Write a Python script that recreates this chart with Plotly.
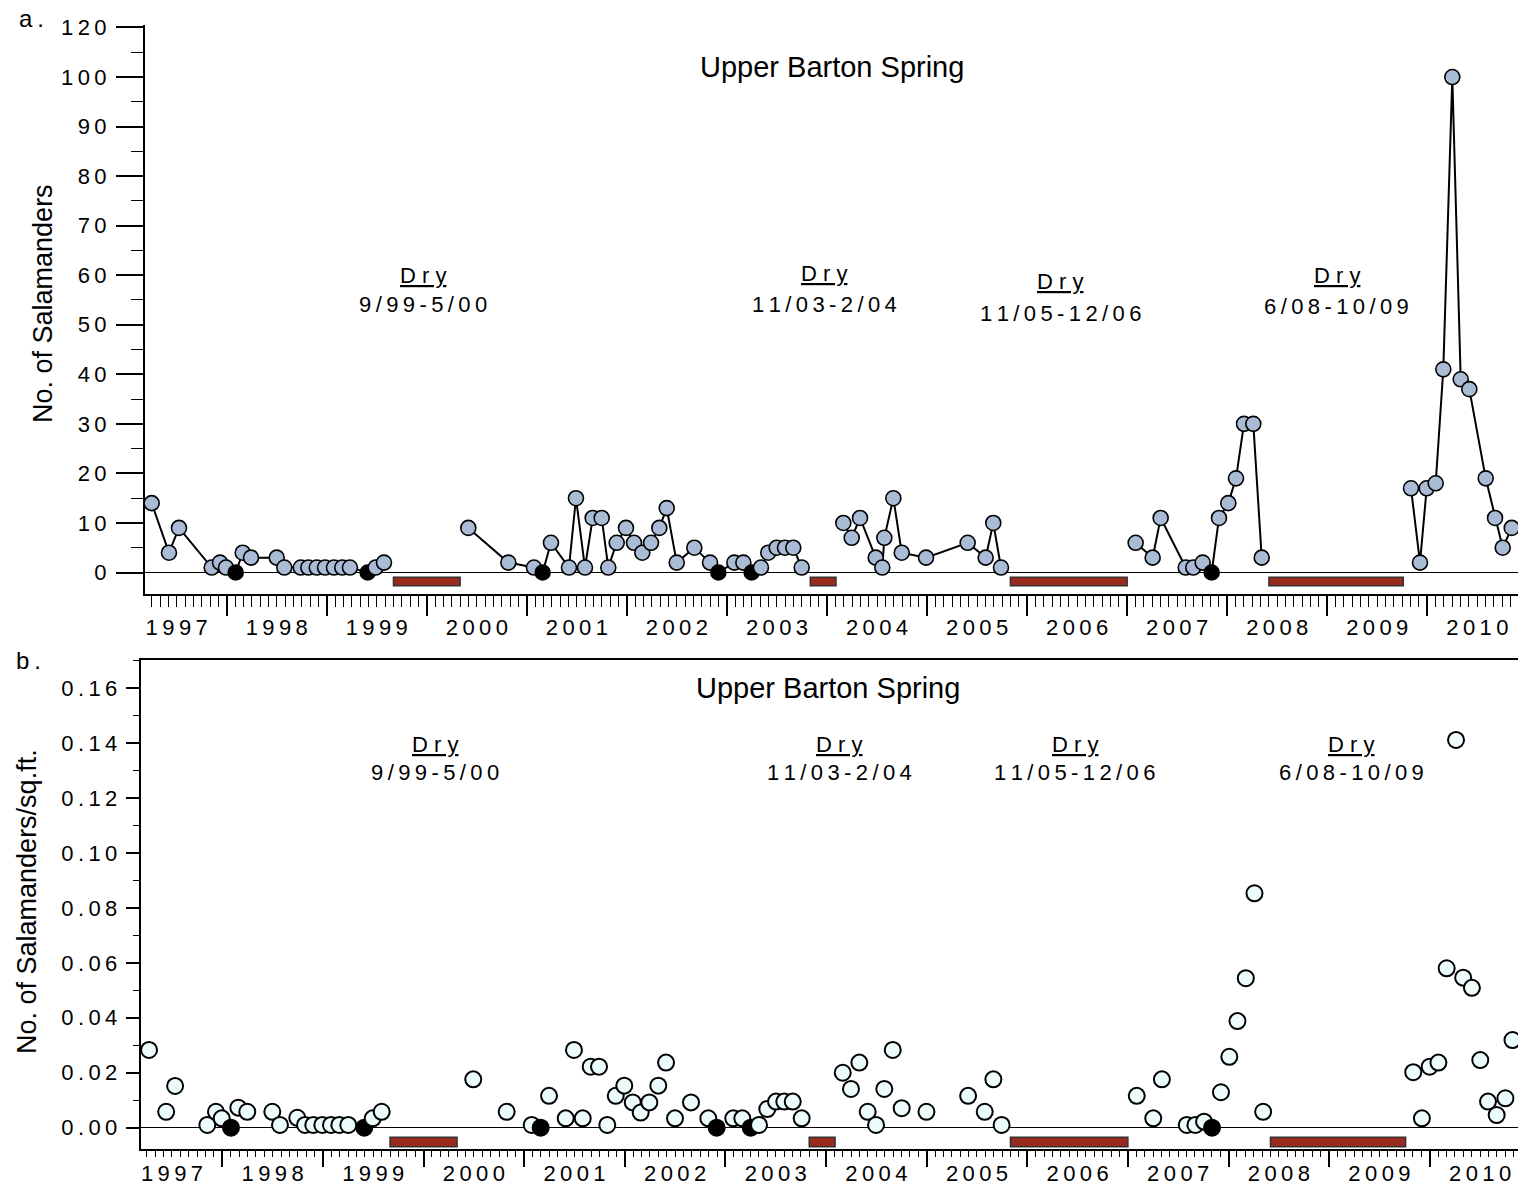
import plotly.graph_objects as go

W, H = 1518, 1187
FONT = "Liberation Sans, Arial, Helvetica, sans-serif"
THIN = "\u2009"

# ---- Panel a: salamander counts (sample time in decimal years) ----
count_time = [
    1997.250, 1997.423, 1997.523, 1997.850, 1997.933, 1997.993, 1998.090, 1998.160,
    1998.243, 1998.500, 1998.576, 1998.740, 1998.816, 1998.900, 1998.983, 1999.072,
    1999.155, 1999.232, 1999.409, 1999.489, 1999.572,
    2000.415, 2000.815, 2001.071, 2001.158, 2001.241, 2001.421, 2001.491, 2001.581,
    2001.658, 2001.748, 2001.814, 2001.898, 2001.991, 2002.071, 2002.154, 2002.241,
    2002.324, 2002.398, 2002.498, 2002.674, 2002.831, 2002.914, 2003.074, 2003.164,
    2003.247, 2003.340, 2003.413, 2003.497, 2003.580, 2003.663, 2003.747,
    2004.163, 2004.247, 2004.330, 2004.487, 2004.553, 2004.573, 2004.663, 2004.747,
    2004.990, 2005.406, 2005.586, 2005.662, 2005.739,
    2007.085, 2007.255, 2007.335, 2007.585, 2007.661, 2007.755, 2007.845, 2007.918,
    2008.011, 2008.088, 2008.168, 2008.261, 2008.345,
    2009.837, 2009.927, 2009.994, 2010.084, 2010.160, 2010.250, 2010.334, 2010.420,
    2010.584, 2010.677, 2010.754, 2010.844,
]
count = [
    14, 4, 9, 1, 2, 1, 0, 4, 3, 3, 1, 1, 1, 1, 1, 1, 1, 1, 0, 1, 2,
    9, 2, 1, 0, 6, 1, 15, 1, 11, 11, 1, 6, 9, 6, 4, 6, 9, 13, 2, 5, 2, 0, 2, 2,
    0, 1, 4, 5, 5, 5, 1,
    10, 7, 11, 3, 1, 7, 15, 4, 3, 6, 3, 10, 1,
    6, 3, 11, 1, 1, 2, 0, 11, 14, 19, 30, 30, 3,
    17, 2, 17, 18, 41, 100, 39, 37, 19, 11, 5, 9,
]

# ---- Panel b: salamanders per square foot ----
density_time = [
    1997.272, 1997.442, 1997.531, 1997.851, 1997.937, 1997.994, 1998.086, 1998.159,
    1998.248, 1998.497, 1998.573, 1998.745, 1998.822, 1998.904, 1998.994, 1999.080,
    1999.163, 1999.252, 1999.411, 1999.495, 1999.584,
    2000.494, 2000.826, 2001.075, 2001.164, 2001.247, 2001.413, 2001.495, 2001.582,
    2001.661, 2001.744, 2001.826, 2001.910, 2001.995, 2002.079, 2002.158, 2002.244,
    2002.333, 2002.410, 2002.499, 2002.658, 2002.830, 2002.913, 2003.078, 2003.168,
    2003.251, 2003.334, 2003.416, 2003.503, 2003.585, 2003.669, 2003.758,
    2004.166, 2004.248, 2004.331, 2004.414, 2004.497, 2004.579, 2004.663, 2004.752,
    2004.998, 2005.412, 2005.577, 2005.663, 2005.745,
    2007.088, 2007.252, 2007.338, 2007.585, 2007.671, 2007.757, 2007.836, 2007.925,
    2008.008, 2008.089, 2008.172, 2008.258, 2008.344,
    2009.836, 2009.922, 2009.999, 2010.086, 2010.168, 2010.261, 2010.332, 2010.419,
    2010.502, 2010.579, 2010.665, 2010.752, 2010.822,
]
density = [
    0.0283, 0.0058, 0.0152, 0.0010, 0.0058, 0.0034, 0.0, 0.0073, 0.0058, 0.0058,
    0.0010, 0.0036, 0.0010, 0.0010, 0.0010, 0.0010, 0.0010, 0.0010, 0.0, 0.0034, 0.0058,
    0.0176, 0.0058, 0.0010, 0.0, 0.0116, 0.0034, 0.0283, 0.0034, 0.0222, 0.0222,
    0.0010, 0.0116, 0.0153, 0.0092, 0.0055, 0.0092, 0.0153, 0.0237, 0.0034, 0.0092,
    0.0034, 0.0, 0.0034, 0.0034, 0.0, 0.0010, 0.0068, 0.0095, 0.0095, 0.0095, 0.0034,
    0.0200, 0.0141, 0.0237, 0.0058, 0.0010, 0.0141, 0.0283, 0.0071, 0.0058, 0.0116,
    0.0058, 0.0176, 0.0010,
    0.0116, 0.0034, 0.0176, 0.0010, 0.0010, 0.0022, 0.0, 0.0129, 0.0258, 0.0388,
    0.0544, 0.0853, 0.0058,
    0.0202, 0.0034, 0.0222, 0.0237, 0.0580, 0.1411, 0.0546, 0.0509, 0.0246, 0.0095,
    0.0046, 0.0107, 0.0319,
]

# ---- Dry periods ----
dry_start = [1999.667, 2003.833, 2005.833, 2008.417]
dry_end = [2000.333, 2004.090, 2007.000, 2009.760]
dry_text = ["9/99-5/00", "11/03-2/04", "11/05-12/06", "6/08-10/09"]

years = list(range(1997, 2011))
count_ticks = [0, 10, 20, 30, 40, 50, 60, 70, 80, 90, 100, 110]
count_tick_text = ["0", "10", "20", "30", "40", "50", "60", "70", "80", "90", "100", "120"]
density_ticks = [0.0, 0.02, 0.04, 0.06, 0.08, 0.10, 0.12, 0.14, 0.16]
density_tick_text = ["0.00", "0.02", "0.04", "0.06", "0.08", "0.10", "0.12", "0.14", "0.16"]

title_text = "Upper Barton Spring"


def spaced(s, sep=THIN):
    return sep.join(s)


def px_x(p):
    return p / W


def px_y(p):
    return 1 - p / H


def with_gaps(t, v):
    """Break the line wherever a dry period falls between two samples."""
    xs, ys = [], []
    for i in range(len(t)):
        if i > 0 and any(t[i - 1] < s < t[i] for s in dry_start):
            xs.append(None)
            ys.append(None)
        xs.append(t[i])
        ys.append(v[i])
    return xs, ys


COUNT_FILL = "#a9bbd5"
DENSITY_FILL = "#ecfcfc"
BAR_FILL = "#982a1e"

fig = go.Figure()

lx, ly = with_gaps(count_time, count)
fig.add_trace(go.Scatter(x=lx, y=ly, mode="lines", line=dict(color="black", width=2),
                         xaxis="x", yaxis="y", showlegend=False, hoverinfo="skip"))
fig.add_trace(go.Scatter(
    x=count_time, y=count, mode="markers", xaxis="x", yaxis="y", showlegend=False,
    marker=dict(size=15, color=["black" if v == 0 else COUNT_FILL for v in count],
                line=dict(color="black", width=1.6)),
))
fig.add_trace(go.Scatter(
    x=density_time, y=density, mode="markers", xaxis="x2", yaxis="y2", showlegend=False,
    marker=dict(size=16, color=["black" if v == 0 else DENSITY_FILL for v in density],
                line=dict(color="black", width=2)),
))
# carriers for the year-label axes
fig.add_trace(go.Scatter(x=[None], y=[None], xaxis="x3", yaxis="y", showlegend=False, hoverinfo="skip"))
fig.add_trace(go.Scatter(x=[None], y=[None], xaxis="x4", yaxis="y2", showlegend=False, hoverinfo="skip"))

tick_font = dict(family=FONT, size=22, color="black")

xa_range = [1997.1834, 2010.9066]
xb_range = [1997.189, 2010.877]
ya_range = [-4.34, 110.5]
yb_range = [-0.00775, 0.1702]


def time_axis(domain, rng, anchor, major_len, minor_len, mirror=False):
    return dict(
        domain=domain, range=rng, anchor=anchor, type="linear", automargin=False,
        tickmode="array", tickvals=years + [2011], showticklabels=False,
        ticks="outside", ticklen=major_len, tickwidth=1.6, tickcolor="black",
        minor=dict(tick0=1997, dtick=1 / 12, ticks="outside", ticklen=minor_len,
                   tickwidth=1.3, tickcolor="black", showgrid=False),
        showline=True, linecolor="black", linewidth=2, mirror=mirror,
        showgrid=False, zeroline=False,
    )


def label_axis(over, anchor, rng, pad):
    return dict(
        overlaying=over, anchor=anchor, range=rng, type="linear", automargin=False,
        tickmode="array", tickvals=[y + 0.5 for y in years],
        ticktext=[spaced(str(y)) for y in years],
        ticks="outside", ticklen=pad, tickcolor="rgba(0,0,0,0)",
        tickfont=tick_font, showline=False, showgrid=False, zeroline=False,
    )


fig.update_layout(
    width=W, height=H, margin=dict(l=0, r=0, t=0, b=0, autoexpand=False),
    paper_bgcolor="white", plot_bgcolor="white",
    font=dict(family=FONT, color="black"),
    xaxis=time_axis([px_x(145), 1], xa_range, "y", 20, 11),
    xaxis3=label_axis("x", "y", xa_range, 14),
    yaxis=dict(
        domain=[px_y(594), px_y(25)], range=ya_range, anchor="x", automargin=False,
        tickmode="array", tickvals=count_ticks,
        ticktext=[spaced(t) for t in count_tick_text], tickfont=tick_font,
        ticks="outside", ticklen=27, tickwidth=1.6, tickcolor="black",
        ticklabelstandoff=5,
        minor=dict(tick0=0, dtick=5, ticks="outside", ticklen=12, tickwidth=1.3,
                   tickcolor="black", showgrid=False),
        showline=True, linecolor="black", linewidth=2, showgrid=False,
        zeroline=True, zerolinecolor="black", zerolinewidth=1.3,
    ),
    xaxis2=time_axis([px_x(140.7), 1], xb_range, "y2", 16, 6, mirror=True),
    xaxis4=label_axis("x2", "y2", xb_range, 5),
    yaxis2=dict(
        domain=[px_y(1149), px_y(660)], range=yb_range, anchor="x2", automargin=False,
        tickmode="array", tickvals=density_ticks,
        ticktext=[spaced(t) for t in density_tick_text], tickfont=tick_font,
        ticks="outside", ticklen=13, tickwidth=1.6, tickcolor="black",
        ticklabelstandoff=4,
        minor=dict(tick0=0, dtick=0.01, ticks="outside", ticklen=6, tickwidth=1.3,
                   tickcolor="black", showgrid=False),
        showline=True, linecolor="black", linewidth=2, showgrid=False,
        zeroline=True, zerolinecolor="black", zerolinewidth=1.3,
    ),
)

# dry-period bars under the zero line
for s, e in zip(dry_start, dry_end):
    fig.add_shape(type="rect", xref="x", yref="y", x0=s, x1=e, y0=-0.97, y1=-2.66,
                  fillcolor=BAR_FILL, line=dict(color="#333333", width=1.5))
    fig.add_shape(type="rect", xref="x2", yref="y2", x0=s, x1=e, y0=-0.0035, y1=-0.0069,
                  fillcolor=BAR_FILL, line=dict(color="#333333", width=1.5))

label_font = dict(family=FONT, size=22, color="black")
dry_word = "<u>" + spaced("Dry", " ") + "</u>"

# "Dry" labels: (x in years, y of "Dry", y of dates) for each panel
dry_label_a = [(1999.962, 60.0, 54.0), (2003.97, 60.4, 54.0), (2006.33, 58.8, 52.2), (2009.097, 60.0, 53.6)]
dry_label_b = [(2000.11, 0.1393, 0.1291), (2004.129, 0.1393, 0.1291), (2006.474, 0.1393, 0.1291), (2009.218, 0.1393, 0.1291)]


def note(x, y, text, xref, yref, font, angle=0):
    fig.add_annotation(x=x, y=y, xref=xref, yref=yref, text=text, showarrow=False,
                       xanchor="center", yanchor="middle", textangle=angle, font=font)


for (x, yd, yt), txt in zip(dry_label_a, dry_text):
    note(x, yd, dry_word, "x", "y", label_font)
    note(x, yt, spaced(txt), "x", "y", label_font)
for (x, yd, yt), txt in zip(dry_label_b, dry_text):
    note(x, yd, dry_word, "x2", "y2", label_font)
    note(x, yt, spaced(txt), "x2", "y2", label_font)

# panel titles, letters and axis titles
title_font = dict(family=FONT, size=29, color="black")
note(px_x(832), px_y(67), title_text, "paper", "paper", title_font)
note(px_x(828), px_y(688), title_text, "paper", "paper", title_font)
note(px_x(31), px_y(18), spaced("a."), "paper", "paper", dict(family=FONT, size=24, color="black"))
note(px_x(28), px_y(660), spaced("b."), "paper", "paper", dict(family=FONT, size=24, color="black"))
note(px_x(43), px_y(304), "No. of Salamanders", "paper", "paper",
     dict(family=FONT, size=27, color="black"), angle=-90)
note(px_x(27), px_y(902), "No. of Salamanders/sq.ft.", "paper", "paper",
     dict(family=FONT, size=27, color="black"), angle=-90)

fig.write_html("out.html")
